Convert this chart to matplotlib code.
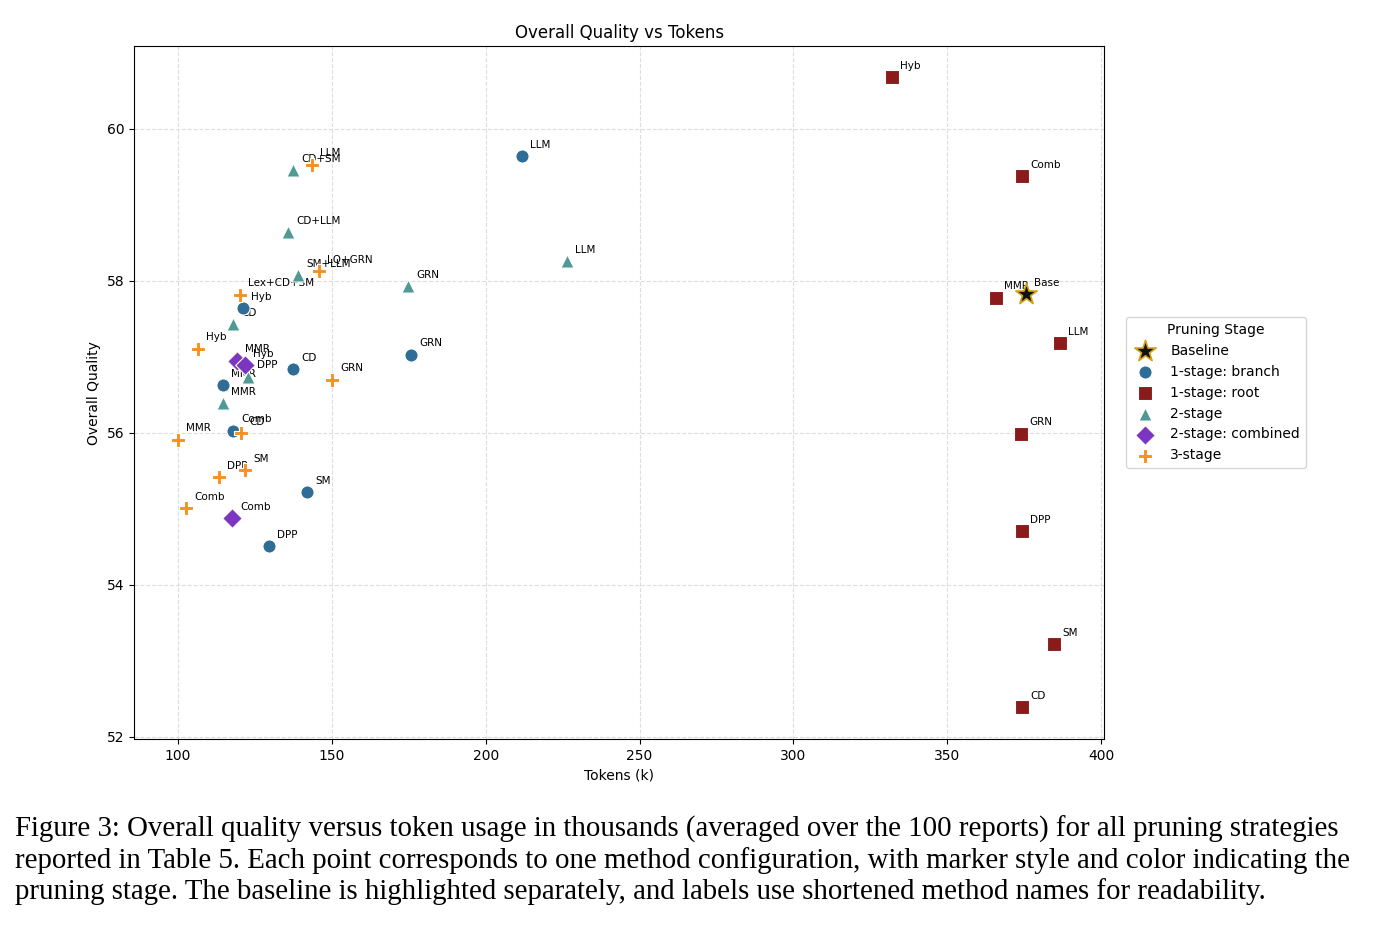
import matplotlib
matplotlib.use("Agg")
import matplotlib.pyplot as plt

base_x, base_y, base_lab = [375.6], [57.83], ["Base"]
br_x = [211.8, 175.7, 141.9, 129.6, 137.4, 114.6, 117.9, 121.1]
br_y = [59.64, 57.03, 55.22, 54.51, 56.84, 56.63, 56.03, 57.64]
br_lab = ["LLM", "GRN", "SM", "DPP", "CD", "MMR", "Comb", "Hyb"]
rt_x = [332.0, 374.3, 365.8, 386.6, 374.0, 374.3, 384.7, 374.3]
rt_y = [60.68, 59.38, 57.78, 57.18, 55.99, 54.71, 53.22, 52.39]
rt_lab = ["Hyb", "Comb", "MMR", "LLM", "GRN", "DPP", "SM", "CD"]
s2_x = [137.4, 135.7, 139.0, 226.4, 174.7, 117.9, 122.8, 114.6]
s2_y = [59.46, 58.64, 58.08, 58.26, 57.93, 57.43, 56.74, 56.39]
s2_lab = ["CD+SM", "CD+LLM", "SM+LLM", "LLM", "GRN", "CD", "DPP", "MMR"]
cb_x = [119.0, 121.8, 117.5]
cb_y = [56.95, 56.89, 54.88]
cb_lab = ["MMR", "Hyb", "Comb"]
s3_x = [143.5, 145.8, 120.1, 106.5, 150.0, 100.0, 120.5, 113.3, 121.8, 102.6]
s3_y = [59.53, 58.13, 57.82, 57.11, 56.70, 55.91, 56.00, 55.42, 55.51, 55.01]
s3_lab = ["LLM", "LQ+GRN", "Lex+CD+SM", "Hyb", "GRN", "MMR", "CD", "DPP", "SM", "Comb"]

fig = plt.figure(figsize=(13.92, 9.35), dpi=100)
ax = fig.add_axes([0.0963, 0.2096, 0.697, 0.741])

groups = [
    ("1-stage: branch", br_x, br_y, br_lab, "o", "#306d96", 90),
    ("1-stage: root", rt_x, rt_y, rt_lab, "s", "#8b1a1a", 90),
    ("2-stage", s2_x, s2_y, s2_lab, "^", "#4f9a94", 90),
    ("2-stage: combined", cb_x, cb_y, cb_lab, "D", "#7b35c0", 100),
    ("3-stage", s3_x, s3_y, s3_lab, "P", "#f7901e", 110),
]
ax.scatter(base_x, base_y, marker="*", s=260, c="#111111", edgecolors="#d4a017",
           linewidths=1.2, label="Baseline", zorder=4)
for lab in base_lab:
    ax.annotate(lab, (base_x[0], base_y[0]), xytext=(6, 6), textcoords="offset points",
                fontsize=7.5, zorder=2)
for name, xs, ys, labs, m, c, s in groups:
    ax.scatter(xs, ys, marker=m, s=s, c=c, edgecolors="white", linewidths=0.8,
               label=name, zorder=4)
    for x, y, t in zip(xs, ys, labs):
        ax.annotate(t, (x, y), xytext=(6, 6), textcoords="offset points",
                    fontsize=7.5, zorder=2)

ax.set_xlim(85.7, 401)
ax.set_ylim(51.97, 61.09)
ax.set_yticks([52, 54, 56, 58, 60])
ax.set_xticks([100, 150, 200, 250, 300, 350, 400])
ax.grid(True, linestyle="--", color="#dddddd", linewidth=0.8)
ax.set_axisbelow(True)
ax.tick_params(labelsize=10)
ax.set_xlabel("Tokens (k)", fontsize=10)
ax.set_ylabel("Overall Quality", fontsize=10)
ax.set_title("Overall Quality vs Tokens", fontsize=12)
ax.legend(title="Pruning Stage", loc="center left", bbox_to_anchor=(1.015, 0.5),
          fontsize=10, title_fontsize=10)

cap = ("Figure 3: Overall quality versus token usage in thousands (averaged over the 100 reports) for all pruning strategies\n"
       "reported in Table 5. Each point corresponds to one method configuration, with marker style and color indicating the\n"
       "pruning stage. The baseline is highlighted separately, and labels use shortened method names for readability.")
fig.text(0.011, 0.128, cap, family="Liberation Serif", fontsize=20.8, va="top",
         ha="left", linespacing=1.2)
fig.savefig("out.png", dpi=100)
